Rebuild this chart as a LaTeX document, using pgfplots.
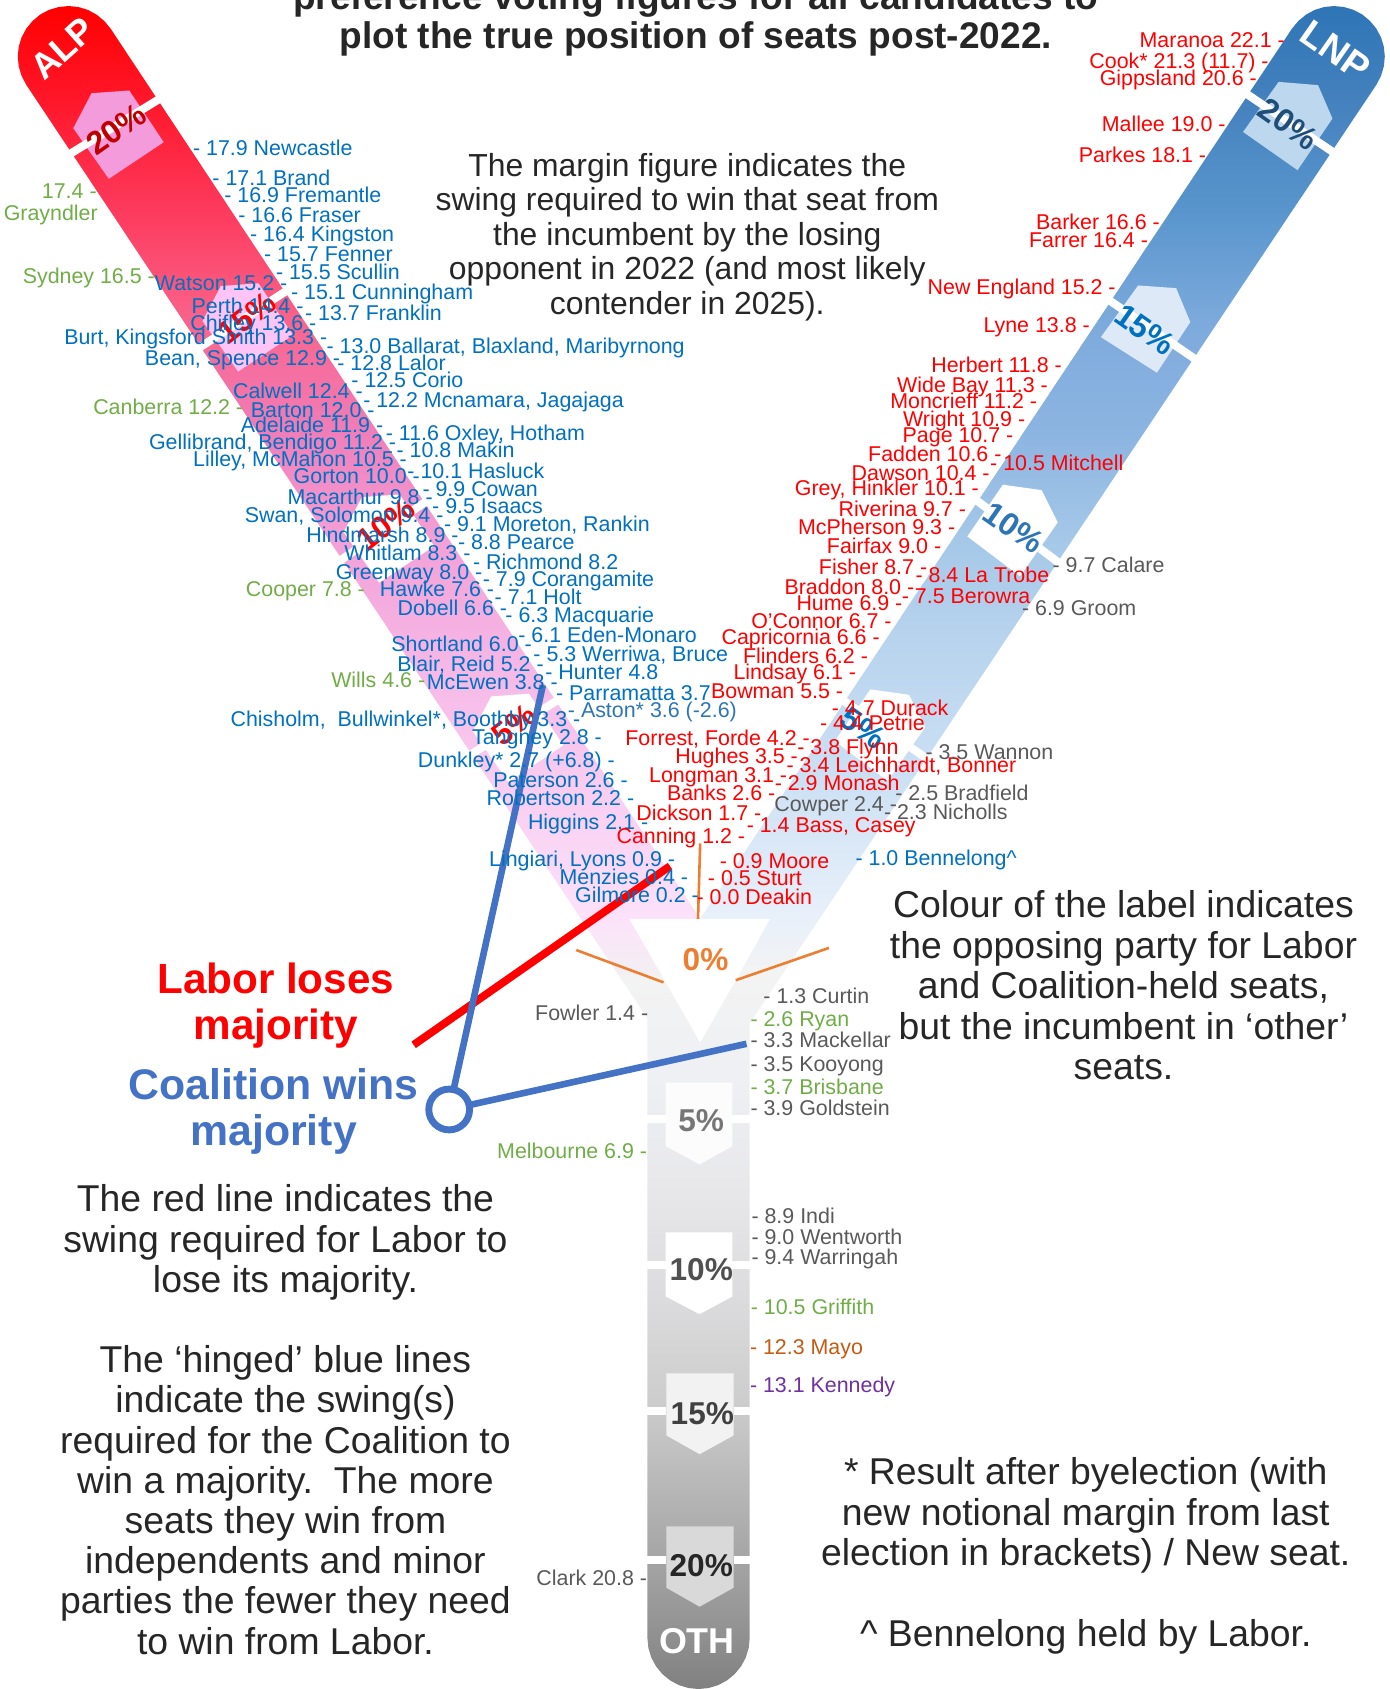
\documentclass[border=0pt]{standalone}
\usepackage{pgfplots}
\pgfplotsset{compat=1.18}
\usepackage{fontspec}
\setmainfont{Liberation Sans}
\definecolor{ltxt}{RGB}{0,112,192}
\definecolor{ltxb}{RGB}{46,117,182}
\definecolor{grn}{RGB}{112,173,71}
\definecolor{gry}{RGB}{89,89,89}
\definecolor{rd}{RGB}{255,0,0}
\definecolor{org}{RGB}{237,125,49}
\definecolor{bln}{RGB}{68,114,196}
\definecolor{body}{RGB}{38,38,38}
\pgfdeclareverticalshading{alpgrad}{100bp}{%
rgb(0bp)=(0.953,0.941,0.953); rgb(25bp)=(0.953,0.941,0.953);
rgb(28.06bp)=(0.988,0.882,0.98); rgb(36.4bp)=(0.973,0.784,0.933);
rgb(41.96bp)=(0.961,0.706,0.894); rgb(47.51bp)=(0.953,0.627,0.843);
rgb(53.07bp)=(0.941,0.49,0.725); rgb(58.63bp)=(0.98,0.392,0.549);
rgb(64.19bp)=(0.992,0.235,0.373); rgb(69.75bp)=(1,0.098,0.176);
rgb(75bp)=(1,0,0); rgb(100bp)=(1,0,0)}
\pgfdeclareverticalshading{lnpgrad}{100bp}{%
rgb(0bp)=(0.953,0.953,0.953); rgb(25bp)=(0.953,0.953,0.953);
rgb(28.06bp)=(0.91,0.941,0.98); rgb(36.4bp)=(0.784,0.871,0.953);
rgb(41.96bp)=(0.725,0.831,0.933); rgb(47.51bp)=(0.647,0.784,0.91);
rgb(53.07bp)=(0.549,0.706,0.882); rgb(58.63bp)=(0.49,0.667,0.863);
rgb(64.19bp)=(0.353,0.588,0.804); rgb(69.75bp)=(0.275,0.51,0.745);
rgb(75bp)=(0.18,0.459,0.714); rgb(100bp)=(0.18,0.459,0.714)}
\pgfdeclareverticalshading{othgrad}{100bp}{%
rgb(0bp)=(0.502,0.502,0.502); rgb(25bp)=(0.502,0.502,0.502);
rgb(30.1bp)=(0.588,0.588,0.588); rgb(37.7bp)=(0.698,0.698,0.698);
rgb(45.2bp)=(0.804,0.804,0.804); rgb(52.75bp)=(0.863,0.863,0.871);
rgb(60.3bp)=(0.91,0.91,0.922); rgb(67.8bp)=(0.933,0.941,0.953);
rgb(75bp)=(0.953,0.953,0.953); rgb(100bp)=(0.953,0.953,0.953)}
\tikzset{lab/.style={font=\fontsize{14.9}{16}\selectfont,inner sep=0pt,text height=13pt,text depth=2.3pt},
 pct/.style={font=\bfseries\fontsize{22.5}{26}\selectfont,inner sep=0pt},
 pcts/.style={font=\bfseries\fontsize{22}{24}\selectfont,inner sep=0pt},
 bodytxt/.style={font=\fontsize{26}{28.2}\selectfont,text=body,align=center,inner sep=0pt},
 strip/.style={white,line width=5.6pt}}
\newcommand{\LW}[4]{\node[lab,anchor=west,text=#1] at (axis cs:#2,#3) {#4};}
\newcommand{\LE}[4]{\node[lab,anchor=east,text=#1] at (axis cs:#2,#3) {#4};}
\begin{document}
\begin{tikzpicture}
\useasboundingbox (0,0) rectangle (967.5pt,1176pt);
\begin{axis}[at={(0,0)},anchor=south west,scale only axis,width=967.5pt,height=1176pt,
 xmin=0,xmax=1290,ymin=0,ymax=1568,y dir=reverse,hide axis,clip=true]
% arms
\addplot[draw=none,shade,shading=alpgrad] coordinates {(102.7,26.6)(96.8,19.5)(89.7,13.6)(81.6,9.2)(72.8,6.5)(63.7,5.6)(54.5,6.5)(45.7,9.1)(37.5,13.4)(30.4,19.3)(24.5,26.4)(20.1,34.5)(17.4,43.3)(16.5,52.4)(17.4,61.6)(20,70.4)(24.3,78.6)(574,905)(614,905)(584,853)(650,853)(102.7,26.6)};
\addplot[draw=none,shade,shading=lnpgrad] coordinates {(1199.4,26.6)(1205.3,19.5)(1212.4,13.6)(1220.5,9.2)(1229.3,6.5)(1238.4,5.6)(1247.6,6.5)(1256.4,9.1)(1264.6,13.4)(1271.7,19.3)(1277.6,26.4)(1282,34.5)(1284.7,43.3)(1285.6,52.4)(1284.7,61.6)(1282.1,70.4)(1277.8,78.6)(726,905)(686,905)(715,853)(650,853)(1199.4,26.6)};
\addplot[draw=none,shade,shading=othgrad] coordinates {(574,905)(614,905)(650,968)(686,905)(726,905)(696,950)(696,1520.5)(695.1,1529.8)(692.4,1538.7)(688,1546.9)(682.1,1554.1)(674.9,1560)(666.7,1564.4)(657.8,1567.1)(648.5,1568)(639.2,1567.1)(630.3,1564.4)(622.1,1560)(614.9,1554.1)(609,1546.9)(604.6,1538.7)(601.9,1529.8)(601,1520.5)(601,945)(574,905)};
% ALP pentagons and gaps
\addplot[draw=none,fill={rgb,255:red,244;green,155;blue,220}] coordinates {(85,86.5)(120,84)(152,132)(101,166)(68,119)(85,86.5)};
\addplot[draw=none,fill={rgb,255:red,253;green,196;blue,245}] coordinates {(205,265.5)(240,263)(272,311)(221,345)(188,298)(205,265.5)};
\addplot[draw=none,fill=white] coordinates {(336,461.5)(371,459)(403,507)(352,541)(319,494)(336,461.5)};
\addplot[draw=none,fill=white] coordinates {(456,646.5)(491,644)(523,692)(472,726)(439,679)(456,646.5)};
\addplot[strip] coordinates {(64,143.5)(151,90)};
\addplot[strip] coordinates {(184,323.5)(270.5,267)};
\addplot[strip] coordinates {(317,519.5)(400,462.5)};
\addplot[strip] coordinates {(437,700.5)(520,648.5)};
% LNP pentagons and gaps
\addplot[draw=none,fill={rgb,255:red,188;green,215;blue,238}] coordinates {(1187,76)(1223.6,79)(1237,110)(1204.6,158)(1154,122.5)(1187,76)};
\addplot[draw=none,fill={rgb,255:red,222;green,233;blue,247}] coordinates {(1056.6,265)(1091.9,267.5)(1105,299)(1074,346)(1022,313)(1056.6,265)};
\addplot[draw=none,fill=white] coordinates {(931,450)(967,455)(982,485)(947,535)(898,498)(931,450)};
\addplot[draw=none,fill=white] coordinates {(808,640)(844,645)(859,675)(824,725)(775,688)(808,640)};
\addplot[strip] coordinates {(1154,85)(1241,143.5)};
\addplot[strip] coordinates {(1025,275.5)(1110.5,334)};
\addplot[strip] coordinates {(900,459.5)(983,522.5)};
\addplot[strip] coordinates {(777.5,646.5)(860,704)};
% stem pentagons and gaps
\addplot[draw=none,fill={rgb,255:red,252;green,252;blue,252}] coordinates {(618,1005)(680,1005)(680,1064)(649.5,1081)(618,1064)(618,1005)};
\addplot[draw=none,fill=white] coordinates {(618,1144)(680,1144)(680,1203.6)(649.5,1220)(618,1203.6)(618,1144)};
\addplot[draw=none,fill={rgb,255:red,242;green,242;blue,242}] coordinates {(618.6,1275)(681,1275)(681,1332.6)(649.5,1350)(618.6,1332.6)(618.6,1275)};
\addplot[draw=none,fill={rgb,255:red,217;green,217;blue,217}] coordinates {(618.6,1417)(681,1417)(681,1474)(649.5,1491.6)(618.6,1474)(618.6,1417)};
\addplot[strip] coordinates {(598,1038.5)(618,1038.5)};
\addplot[strip] coordinates {(680,1038.5)(700,1038.5)};
\addplot[strip] coordinates {(598,1174.5)(618,1174.5)};
\addplot[strip] coordinates {(680,1174.5)(700,1174.5)};
\addplot[strip] coordinates {(598,1310)(618.6,1310)};
\addplot[strip] coordinates {(681,1310)(700,1310)};
\addplot[strip] coordinates {(598,1448.5)(618.6,1448.5)};
\addplot[strip] coordinates {(681,1448.5)(700,1448.5)};
% orange lines
\addplot[org,line width=1.8pt] coordinates {(650,783)(648,853)};
\addplot[org,line width=1.8pt] coordinates {(535,882)(616,912)};
\addplot[org,line width=1.8pt] coordinates {(769.6,880)(683,910)};
% percent labels
\node[pct,text={rgb,255:red,192;green,0;blue,0},rotate=35] at (axis cs:108,120) {20\%};
\node[pcts,text=rd,rotate=38] at (axis cs:229,295) {15\%};
\node[pcts,text=rd,rotate=38] at (axis cs:358,487) {10\%};
\node[pcts,text=rd,rotate=38] at (axis cs:477,673) {5\%};
\node[pct,text={rgb,255:red,31;green,78;blue,121},rotate=-35] at (axis cs:1196,115) {20\%};
\node[pct,text=ltxt,rotate=-35] at (axis cs:1063,306) {15\%};
\node[pct,text=ltxb,rotate=-35] at (axis cs:941,490) {10\%};
\node[pct,text=ltxt,rotate=-35] at (axis cs:801,676) {5\%};
\node[pcts,text={rgb,255:red,118;green,118;blue,118}] at (axis cs:651,1040) {5\%};
\node[pcts,text={rgb,255:red,80;green,80;blue,80}] at (axis cs:651,1179) {10\%};
\node[pcts,text={rgb,255:red,64;green,64;blue,64}] at (axis cs:652,1312) {15\%};
\node[pcts,text=body] at (axis cs:651,1453) {20\%};
\node[pcts,text=org] at (axis cs:655,891) {0\%};
\node[pct,text=white,font=\bfseries\fontsize{25}{27}\selectfont] at (axis cs:647,1524) {OTH};
\node[pct,text=white,font=\bfseries\fontsize{25}{27}\selectfont,rotate=42] at (axis cs:58,45) {ALP};
\node[pct,text=white,font=\bfseries\fontsize{26}{27}\selectfont,rotate=-35] at (axis cs:1240,47) {LNP};
% majority lines
\addplot[rd,line width=5.4pt] coordinates {(384,970)(622,804)};
\addplot[bln,line width=4.6pt] coordinates {(417,1030)(504,636)};
\addplot[bln,line width=4.6pt] coordinates {(417,1030)(693,969)};
\addplot[only marks,mark=*,mark size=14.2pt,mark options={draw=bln,fill=white,line width=4.8pt}] coordinates {(417,1030)};
% title and notes
\node[anchor=base,inner sep=0pt,text=body,font=\bfseries\fontsize{25.8}{28}\selectfont] at (axis cs:646,9) {preference voting figures for all candidates to};
\node[anchor=base,inner sep=0pt,text=body,font=\bfseries\fontsize{25.8}{28}\selectfont] at (axis cs:646,45) {plot the true position of seats post-2022.};
\node[bodytxt,font=\fontsize{22.2}{24}\selectfont] at (axis cs:638,220) {The margin figure indicates the\\swing required to win that seat from\\the incumbent by the losing\\opponent in 2022 (and most likely\\contender in 2025).};
\node[bodytxt] at (axis cs:1043,915) {Colour of the label indicates\\the opposing party for Labor\\and Coalition-held seats,\\but the incumbent in ‘other’\\seats.};
\node[bodytxt] at (axis cs:265,1153.5) {The red line indicates the\\swing required for Labor to\\lose its majority.};
\node[bodytxt,font=\fontsize{26}{28}\selectfont] at (axis cs:265,1392.5) {The ‘hinged’ blue lines\\indicate the swing(s)\\required for the Coalition to\\win a majority.\ \ The more\\seats they win from\\independents and minor\\parties the fewer they need\\to win from Labor.};
\node[bodytxt] at (axis cs:1008,1407) {* Result after byelection (with\\new notional margin from last\\election in brackets) / New seat.};
\node[bodytxt] at (axis cs:1008,1520) {\^{} Bennelong held by Labor.};
\node[align=center,inner sep=0pt,text=rd,font=\bfseries\fontsize{29.4}{32.2}\selectfont] at (axis cs:256,933.5) {Labor loses\\majority};
\node[align=center,inner sep=0pt,text=bln,font=\bfseries\fontsize{29.8}{32.2}\selectfont] at (axis cs:254,1032) {Coalition wins\\majority};
% ALP-held seats, right of arm
\LW{ltxt}{179}{137}{- 17.9 Newcastle}
\LW{ltxt}{197}{165}{- 17.1 Brand}
\LW{ltxt}{208}{181}{- 16.9 Fremantle}
\LW{ltxt}{221}{199}{- 16.6 Fraser}
\LW{ltxt}{232}{217}{- 16.4 Kingston}
\LW{ltxt}{245}{236}{- 15.7 Fenner}
\LW{ltxt}{256}{252}{- 15.5 Scullin}
\LW{ltxt}{270}{271}{- 15.1 Cunningham}
\LW{ltxt}{283}{290}{- 13.7 Franklin}
\LW{ltxt}{303}{321}{- 13.0 Ballarat, Blaxland, Maribyrnong}
\LW{ltxt}{313}{337}{- 12.8 Lalor}
\LW{ltxt}{326}{353}{- 12.5 Corio}
\LW{ltxt}{337}{371}{- 12.2 Mcnamara, Jagajaga}
\LW{ltxt}{358}{402}{- 11.6 Oxley, Hotham}
\LW{ltxt}{368}{418}{- 10.8 Makin}
\LW{ltxt}{378}{437}{- 10.1 Hasluck}
\LW{ltxt}{392}{454}{- 9.9 Cowan}
\LW{ltxt}{401}{470}{- 9.5 Isaacs}
\LW{ltxt}{412}{486}{- 9.1 Moreton, Rankin}
\LW{ltxt}{425}{503}{- 8.8 Pearce}
\LW{ltxt}{439}{522}{- Richmond 8.2}
\LW{ltxt}{448}{537}{- 7.9 Corangamite}
\LW{ltxt}{459}{554}{- 7.1 Holt}
\LW{ltxt}{469}{571}{- 6.3 Macquarie}
\LW{ltxt}{481}{589}{- 6.1 Eden-Monaro}
\LW{ltxt}{495}{607}{- 5.3 Werriwa, Bruce}
\LW{ltxt}{506}{624}{- Hunter 4.8}
\LW{ltxt}{516}{643}{- Parramatta 3.7}
\LW{ltxb}{527}{659}{- Aston* 3.6 (-2.6)}
% ALP-held seats, left
\LE{ltxt}{267}{263}{Watson 15.2 -}
\LE{ltxt}{282}{284}{Perth 14.4 -}
\LE{ltxt}{294}{300}{Chifley 13.6 -}
\LE{ltxt}{304}{313}{Burt, Kingsford Smith 13.3 -}
\LE{ltxt}{316}{332}{Bean, Spence 12.9 -}
\LE{ltxt}{337}{362.6}{Calwell 12.4 -}
\LE{ltxt}{348}{380}{Barton 12.0 -}
\LE{ltxt}{356}{394}{Adelaide 11.9 -}
\LE{ltxt}{368}{410}{Gellibrand, Bendigo 11.2 -}
\LE{ltxt}{378}{426}{Lilley, McMahon 10.5 -}
\LE{ltxt}{390}{442}{Gorton 10.0 -}
\LE{ltxt}{402}{461}{Macarthur 9.8 -}
\LE{ltxt}{412}{478}{Swan, Solomon 9.4 -}
\LE{ltxt}{426}{496.5}{Hindmarsh 8.9 -}
\LE{ltxt}{437}{513}{Whitlam 8.3 -}
\LE{ltxt}{448}{530.5}{Greenway 8.0 -}
\LE{ltxt}{459}{546.6}{Hawke 7.6 -}
\LE{ltxt}{471}{564}{Dobell 6.6 -}
\LE{ltxt}{494}{598}{Shortland 6.0 -}
\LE{ltxt}{505}{616.5}{Blair, Reid 5.2 -}
\LE{ltxt}{518}{633}{McEwen 3.8 -}
\LE{ltxt}{539}{667.5}{Chisholm,\ \ Bullwinkel*, Boothby 3.3 -}
\LE{ltxt}{559}{683.6}{Tangney 2.8 -}
\LE{ltxt}{571}{705}{Dunkley* 2.7 (+6.8) -}
\LE{ltxt}{583}{724}{Paterson 2.6 -}
\LE{ltxt}{589}{740.5}{Robertson 2.2 -}
\LE{ltxt}{602}{762.5}{Higgins 2.1 -}
\LE{ltxt}{627}{797}{Lingiari, Lyons 0.9 -}
\LE{ltxt}{639}{814}{Menzies 0.4 -}
\LE{ltxt}{649}{830.6}{Gilmore 0.2 -}
% ALP v Green
\LE{grn}{90}{177}{17.4 -}
\LE{grn}{91}{198}{Grayndler}
\LE{grn}{144}{256}{Sydney 16.5 -}
\LE{grn}{226}{378}{Canberra 12.2 -}
\LE{grn}{339}{546.6}{Cooper 7.8 -}
\LE{grn}{395}{631}{Wills 4.6 -}
% Coalition seats, left of arm
\LE{rd}{1193}{36.5}{Maranoa 22.1 -}
\LE{rd}{1178}{56.6}{Cook* 21.3 (11.7) -}
\LE{rd}{1167}{72}{Gippsland 20.6 -}
\LE{rd}{1138}{115.4}{Mallee 19.0 -}
\LE{rd}{1120}{143.5}{Parkes 18.1 -}
\LE{rd}{1077}{205.7}{Barker 16.6 -}
\LE{rd}{1066}{222.7}{Farrer 16.4 -}
\LE{rd}{1036}{266}{New England 15.2 -}
\LE{rd}{1012}{301.6}{Lyne 13.8 -}
\LE{rd}{986}{338.5}{Herbert 11.8 -}
\LE{rd}{973}{357}{Wide Bay 11.3 -}
\LE{rd}{963}{372}{Moncrieff 11.2 -}
\LE{rd}{952}{388.5}{Wright 10.9 -}
\LE{rd}{941}{404}{Page 10.7 -}
\LE{rd}{930}{421}{Fadden 10.6 -}
\LE{rd}{919}{438.5}{Dawson 10.4 -}
\LE{rd}{909}{453}{Grey, Hinkler 10.1 -}
\LE{rd}{897}{472.5}{Riverina 9.7 -}
\LE{rd}{887}{488.8}{McPherson 9.3 -}
\LE{rd}{874}{506.4}{Fairfax 9.0 -}
\LE{rd}{861}{525.9}{Fisher 8.7 -}
\LE{rd}{849}{544.4}{Braddon 8.0 -}
\LE{rd}{838}{559.3}{Hume 6.9 -}
\LE{rd}{828}{576}{O’Connor 6.7 -}
\LE{rd}{817}{590.8}{Capricornia 6.6 -}
\LE{rd}{806}{608.5}{Flinders 6.2 -}
\LE{rd}{795}{624}{Lindsay 6.1 -}
\LE{rd}{783}{641}{Bowman 5.5 -}
\LE{rd}{752}{684.6}{Forrest, Forde 4.2 -}
\LE{rd}{741}{702}{Hughes 3.5 -}
\LE{rd}{731}{719}{Longman 3.1 -}
\LE{rd}{720}{735.6}{Banks 2.6 -}
\LE{rd}{707}{755}{Dickson 1.7 -}
\LE{rd}{692}{775.5}{Canning 1.2 -}
% Coalition seats, right
\LW{rd}{919}{430}{- 10.5 Mitchell}
\LW{rd}{849.7}{533.6}{- 8.4 La Trobe}
\LW{rd}{837}{552.8}{- 7.5 Berowra}
\LW{rd}{772}{656.7}{- 4.7 Durack}
\LW{rd}{761}{671}{- 4.4 Petrie}
\LW{rd}{740}{693}{- 3.8 Flynn}
\LW{rd}{730}{710}{- 3.4 Leichhardt, Bonner}
\LW{rd}{719}{727}{- 2.9 Monash}
\LW{rd}{693}{765.6}{- 1.4 Bass, Casey}
\LW{rd}{668}{798.7}{- 0.9 Moore}
\LW{rd}{657}{814.5}{- 0.5 Sturt}
\LW{rd}{646.5}{833}{- 0.0 Deakin}
% others near arm
\LW{gry}{977}{524}{- 9.7 Calare}
\LW{gry}{948.6}{564}{- 6.9 Groom}
\LW{gry}{859}{697.6}{- 3.5 Wannon}
\LW{gry}{831}{735.6}{- 2.5 Bradfield}
\LW{gry}{820.4}{753.5}{- 2.3 Nicholls}
\LE{gry}{833}{746}{Cowper 2.4 -}
\LW{ltxt}{794}{796.5}{- 1.0 Bennelong\^{}}
% stem labels
\LE{gry}{602}{940.5}{Fowler 1.4 -}
\LE{grn}{601}{1068.5}{Melbourne 6.9 -}
\LE{gry}{601}{1464.5}{Clark 20.8 -}
\LW{gry}{708.5}{924.5}{- 1.3 Curtin}
\LW{grn}{696.5}{945.6}{- 2.6 Ryan}
\LW{gry}{696.5}{965.5}{- 3.3 Mackellar}
\LW{gry}{696.5}{987.4}{- 3.5 Kooyong}
\LW{grn}{696.5}{1009.4}{- 3.7 Brisbane}
\LW{gry}{696.5}{1028.6}{- 3.9 Goldstein}
\LW{gry}{697.4}{1128.5}{- 8.9 Indi}
\LW{gry}{697.4}{1148}{- 9.0 Wentworth}
\LW{gry}{697.4}{1166.5}{- 9.4 Warringah}
\LW{grn}{696.8}{1213}{- 10.5 Griffith}
\LW{{rgb,255:red,197;green,90;blue,17}}{696}{1250.5}{- 12.3 Mayo}
\LW{{rgb,255:red,112;green,48;blue,160}}{696}{1286}{- 13.1 Kennedy}
\end{axis}
\end{tikzpicture}
\end{document}
